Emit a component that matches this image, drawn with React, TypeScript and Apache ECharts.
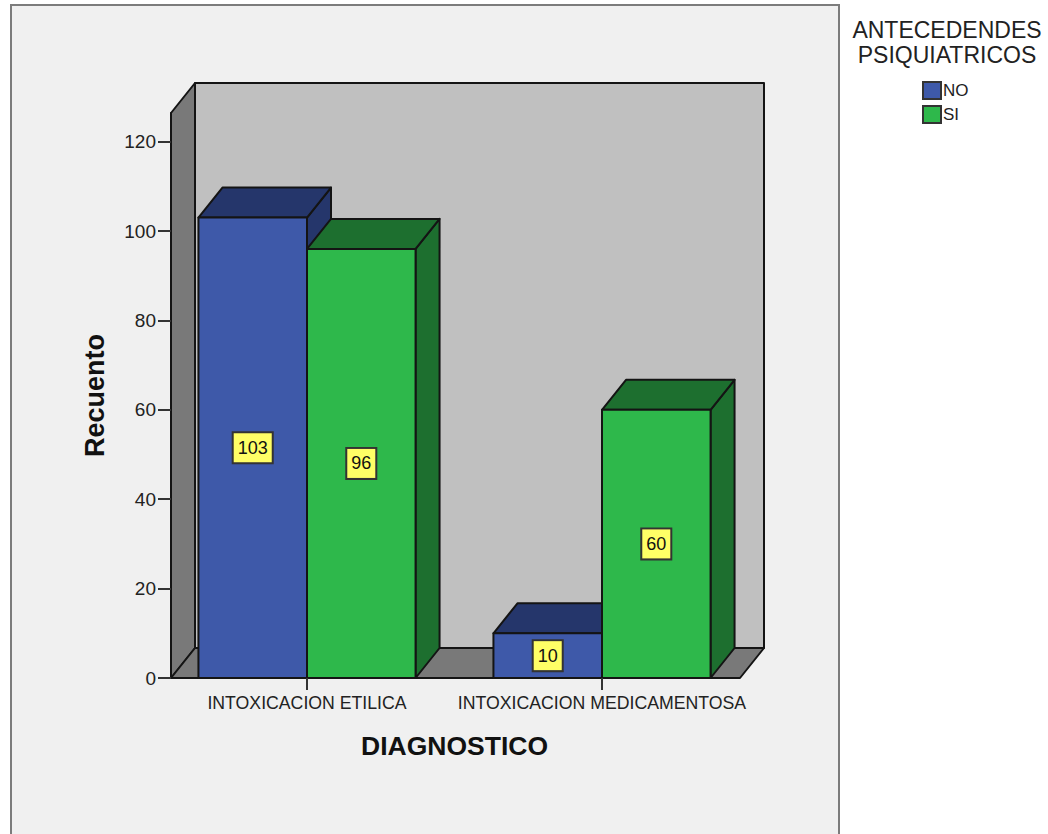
import React, { useEffect, useRef } from "react";
import * as echarts from "echarts";

const categories = ["INTOXICACION ETILICA", "INTOXICACION MEDICAMENTOSA"];
const noValues = [103, 10];
const siValues = [96, 60];
const yTicks = [0, 20, 40, 60, 80, 100, 120];
const axisTop = 126.4;

const SANS = '"Liberation Sans", Arial, sans-serif';
const DEPTH_X = 24;
const DEPTH_Y = 30;
const EDGE = "#141414";
const FLOOR_INSET_LEFT = 11.5;
const FLOOR_INSET_RIGHT = 9.5;

// Grey box behind the bars: left wall, floor and back wall.
function renderWalls(params: any) {
  const c = params.coordSys;
  const x0 = c.x + FLOOR_INSET_LEFT;
  const x1 = c.x + c.width - FLOOR_INSET_RIGHT;
  const yTop = c.y;
  const yBase = c.y + c.height;
  const face = (points: number[][], fill: string) => ({
    type: "polygon",
    shape: { points },
    style: { fill, stroke: EDGE, lineWidth: 2, lineJoin: "round" },
  });
  return {
    type: "group",
    children: [
      face(
        [
          [x0 + DEPTH_X, yTop - DEPTH_Y],
          [x1 + DEPTH_X, yTop - DEPTH_Y],
          [x1 + DEPTH_X, yBase - DEPTH_Y],
          [x0 + DEPTH_X, yBase - DEPTH_Y],
        ],
        "#c0c0c0",
      ),
      face(
        [
          [x0, yBase],
          [x0 + DEPTH_X, yBase - DEPTH_Y],
          [x0 + DEPTH_X, yTop - DEPTH_Y],
          [x0, yTop],
        ],
        "#797979",
      ),
      face(
        [
          [x0, yBase],
          [x1, yBase],
          [x1 + DEPTH_X, yBase - DEPTH_Y],
          [x0 + DEPTH_X, yBase - DEPTH_Y],
        ],
        "#797979",
      ),
    ],
  };
}

// One extruded bar with its value tag on the front face.
function makeBarRenderer(offsetIndex: number, front: string, shade: string) {
  return (_params: any, api: any) => {
    const cat = api.value(0);
    const value = api.value(1);
    const [cx, yBase] = api.coord([cat, 0]);
    const [, yTop] = api.coord([cat, value]);
    const width = api.size([1, 0])[0] * 0.368;
    const x0 = cx + (offsetIndex - 1) * width;
    const x1 = x0 + width;
    const part = (points: number[][], fill: string) => ({
      type: "polygon",
      shape: { points },
      style: { fill, stroke: EDGE, lineWidth: 2, lineJoin: "round" },
    });
    return {
      type: "group",
      children: [
        part(
          [
            [x1, yTop],
            [x1 + DEPTH_X, yTop - DEPTH_Y],
            [x1 + DEPTH_X, yBase - DEPTH_Y],
            [x1, yBase],
          ],
          shade,
        ),
        part(
          [
            [x0, yTop],
            [x0 + DEPTH_X, yTop - DEPTH_Y],
            [x1 + DEPTH_X, yTop - DEPTH_Y],
            [x1, yTop],
          ],
          shade,
        ),
        part(
          [
            [x0, yTop],
            [x1, yTop],
            [x1, yBase],
            [x0, yBase],
          ],
          front,
        ),
        {
          type: "text",
          style: {
            text: String(value),
            x: (x0 + x1) / 2,
            y: (yTop + yBase) / 2,
            align: "center",
            verticalAlign: "middle",
            font: `18px ${SANS}`,
            fill: "#111",
            backgroundColor: "#ffff66",
            borderColor: "#333",
            borderWidth: 2,
            padding: [6, 4, 5, 4],
          },
        },
      ],
    };
  };
}

const barData = (values: number[]) => values.map((v, i) => [i, v]);

export default function App() {
  const ref = useRef<HTMLDivElement>(null);

  useEffect(() => {
    if (!ref.current) return;
    const chart = echarts.init(ref.current, undefined, { renderer: "svg" });
    chart.setOption({
      animation: false,
      backgroundColor: "#ffffff",
      textStyle: { fontFamily: SANS },
      title: {
        text: "ANTECEDENDES\nPSIQUIATRICOS",
        left: 947,
        top: 17,
        padding: 0,
        textAlign: "center",
        textStyle: {
          fontFamily: SANS,
          fontWeight: "normal",
          fontSize: 23,
          lineHeight: 25,
          color: "#222",
        },
      },
      legend: {
        orient: "vertical",
        left: 922,
        top: 81,
        padding: 0,
        itemWidth: 18,
        itemHeight: 17,
        itemGap: 5,
        icon: "rect",
        data: ["NO", "SI"],
        selectedMode: false,
        textStyle: { fontFamily: SANS, fontSize: 17, color: "#222", padding: [2, 0, 0, -3] },
        itemStyle: { borderColor: "#333", borderWidth: 2 },
      },
      graphic: [
        {
          type: "rect",
          shape: { x: 11, y: 5, width: 828, height: 829 },
          style: { fill: "#f0f0f0" },
          z: -2,
        },
        {
          type: "polyline",
          shape: {
            points: [
              [11, 834],
              [11, 5],
              [839, 5],
              [839, 834],
            ],
          },
          style: { fill: "none", stroke: "#7c7c7c", lineWidth: 2 },
          z: -1,
        },
      ],
      grid: { left: 159.5, top: 113, width: 590, height: 565 },
      xAxis: {
        type: "category",
        data: categories,
        name: "DIAGNOSTICO",
        nameLocation: "middle",
        nameGap: 54,
        nameTextStyle: { fontFamily: SANS, fontWeight: "bold", fontSize: 26.5, color: "#111" },
        axisLine: { show: false },
        axisTick: {
          show: true,
          alignWithLabel: true,
          length: 12,
          lineStyle: { color: "#333", width: 2 },
        },
        axisLabel: {
          margin: 16,
          interval: 0,
          fontFamily: SANS,
          fontSize: 17.7,
          color: "#222",
        },
        z: 5,
      },
      yAxis: {
        type: "value",
        min: 0,
        max: axisTop,
        offset: -FLOOR_INSET_LEFT,
        name: "Recuento",
        nameLocation: "middle",
        nameGap: 63,
        nameTextStyle: { fontFamily: SANS, fontWeight: "bold", fontSize: 27, color: "#111" },
        splitLine: { show: false },
        axisLine: { show: true, lineStyle: { color: EDGE, width: 2 } },
        axisTick: {
          show: true,
          length: 13,
          customValues: yTicks,
          lineStyle: { color: "#333", width: 2 },
        },
        axisLabel: {
          margin: 15,
          customValues: yTicks,
          fontFamily: SANS,
          fontSize: 19,
          color: "#222",
        },
        z: 5,
      },
      series: [
        {
          type: "custom",
          name: "walls",
          silent: true,
          z: 1,
          clip: false,
          data: [[0, 0]],
          renderItem: renderWalls,
        },
        {
          type: "custom",
          name: "NO",
          z: 2,
          clip: false,
          encode: { x: 0, y: 1 },
          itemStyle: { color: "#3e59a9" },
          data: barData(noValues),
          renderItem: makeBarRenderer(0, "#3e59a9", "#25366b"),
        },
        {
          type: "custom",
          name: "SI",
          z: 3,
          clip: false,
          encode: { x: 0, y: 1 },
          itemStyle: { color: "#2eb84b" },
          data: barData(siValues),
          renderItem: makeBarRenderer(1, "#2eb84b", "#1d6f2f"),
        },
      ],
    });
    return () => chart.dispose();
  }, []);

  return (
    <div
      ref={ref}
      style={{ position: "absolute", left: 0, top: 0, width: 1048, height: 834 }}
    />
  );
}
